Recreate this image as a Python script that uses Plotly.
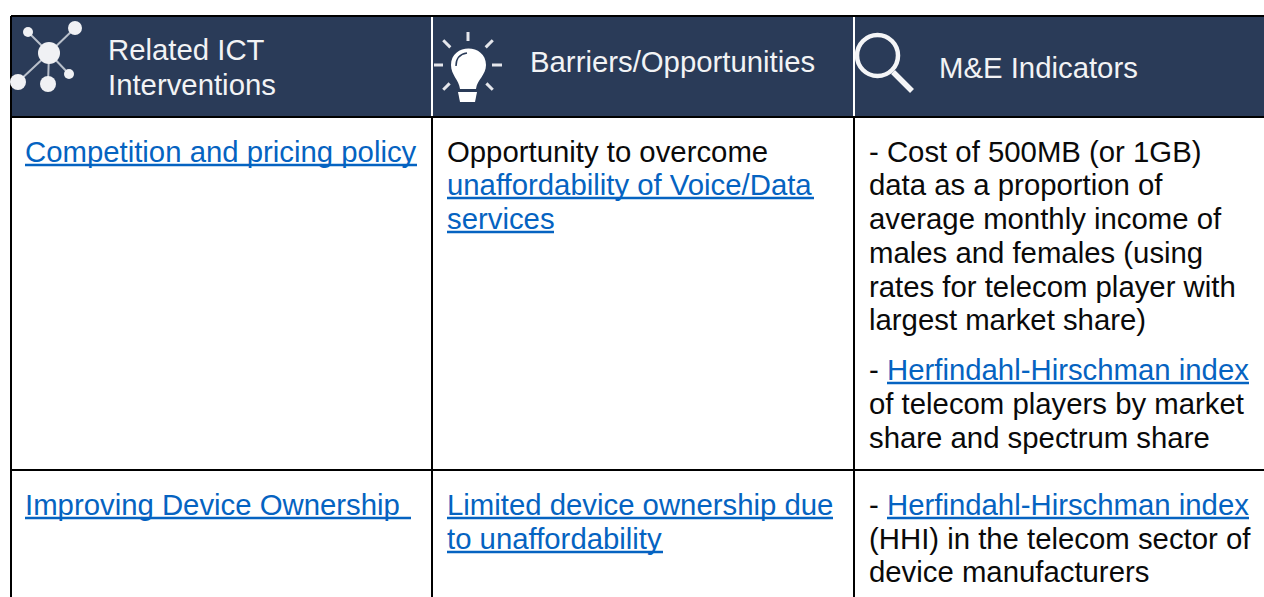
import plotly.graph_objects as go
import math

W, H = 1264, 597
NAVY = "#2A3B58"
LINK = "#0563C1"
FONT = "Liberation Sans, Arial, sans-serif"

headers = [("Related ICT", 108, 49), ("Interventions", 108, 84),
           ("Barriers/Opportunities", 530, 61), ("M&E Indicators", 939, 67)]
body = [("Opportunity to overcome", 447, 151), ("- Cost of 500MB (or 1GB)", 869, 151),
        ("data as a proportion of", 869, 184), ("average monthly income of", 869, 218),
        ("males and females (using", 869, 252), ("rates for telecom player with", 869, 286),
        ("largest market share)", 869, 319), ("-", 869, 369),
        ("of telecom players by market", 869, 403), ("share and spectrum share", 869, 437),
        ("-", 869, 504), ("(HHI) in the telecom sector of", 869, 538),
        ("device manufacturers", 869, 571)]
links = [("Competition and pricing policy", 25, 151, 417), ("Improving Device Ownership ", 25, 504, 411),
         ("unaffordability of Voice/Data", 447, 184, 814), ("services", 447, 218, 554),
         ("Limited device ownership due", 447, 504, 833), ("to unaffordability", 447, 538, 663),
         ("Herfindahl-Hirschman index", 887, 369, 1249), ("Herfindahl-Hirschman index", 887, 504, 1249)]

# table rules
black_h = [(11, 1264, 16), (11, 1264, 117), (11, 1264, 470)]
black_v = [(11, 16, 597), (432, 117, 597), (854, 117, 597)]
white_v = [(432, 17, 116), (854, 17, 116)]

shapes = [dict(type="rect", x0=12, x1=W, y0=17, y1=116, fillcolor=NAVY, line_width=0, layer="below")]
def ln(x0, y0, x1, y1, c, w):
    return dict(type="line", x0=x0, y0=y0, x1=x1, y1=y1, line=dict(color=c, width=w))
for a, b, y in black_h:
    shapes.append(ln(a, y, b, y, "black", 2))
for x, a, b in black_v:
    shapes.append(ln(x, a, x, b, "black", 2))
for x, a, b in white_v:
    shapes.append(ln(x, a, x, b, "white", 2))
for t, x, y, xe in links:
    shapes.append(ln(x, y + 14, xe, y + 14, LINK, 2.5))

# network icon
hub = (49, 53)
nodes = [(28, 32, 5), (75, 28, 7), (18, 82, 8), (48, 84, 8), (69, 74, 5)]
for x, y, r in nodes:
    shapes.append(ln(hub[0], hub[1], x, y, "#B9C0CB", 2))
    shapes.append(dict(type="circle", x0=x - r, x1=x + r, y0=y - r, y1=y + r, fillcolor="#F0F1F4", line_width=0))
shapes.append(dict(type="circle", x0=hub[0] - 11, x1=hub[0] + 11, y0=hub[1] - 11, y1=hub[1] + 11,
                   fillcolor="#F0F1F4", line_width=0))

# bulb icon
bulb_c = (468, 65)
for deg, r0, r1 in [(270, 24, 33), (225, 25, 35), (315, 25, 35), (180, 25, 34), (0, 24, 34), (135, 26, 35), (45, 26, 35)]:
    t = math.radians(deg)
    shapes.append(ln(bulb_c[0] + r0 * math.cos(t), bulb_c[1] + r0 * math.sin(t),
                     bulb_c[0] + r1 * math.cos(t), bulb_c[1] + r1 * math.sin(t), "#E4E6EB", 3))
shapes.append(dict(type="path", path="M 451 65 C 451 43 486 43 486 65 C 486 75 477 80 476 89 L 460 89 C 459 80 451 75 451 65 Z",
                   fillcolor="white", line_width=0))
shapes.append(dict(type="path", path="M 456 66 C 456 58 460 54 467 53", line=dict(color=NAVY, width=1.5)))
shapes.append(dict(type="path", path="M 458 92 L 477 92 L 475 102 L 460 102 Z", fillcolor="white", line_width=0))

# magnifier icon
shapes.append(dict(type="circle", x0=857, x1=898, y0=35, y1=76, line=dict(color="#F4F5F7", width=4.5)))
shapes.append(ln(893, 72, 912, 91, "#F4F5F7", 5.5))

ann = []
def add(t, x, y, c):
    ann.append(dict(x=x, y=y, text=t, xref="x", yref="y", xanchor="left", yanchor="middle", showarrow=False,
                    borderpad=0, borderwidth=0, align="left", font=dict(family=FONT, size=29.33, color=c)))
for t, x, y in headers:
    add(t, x, y, "#F2F3F5")
for t, x, y in body:
    add(t, x, y, "#0A0A0A")
for t, x, y, _ in links:
    add(t, x, y, LINK)

fig = go.Figure()
fig.update_layout(width=W, height=H, autosize=False, margin=dict(l=0, r=0, t=0, b=0), paper_bgcolor="white",
                  plot_bgcolor="white", shapes=shapes, annotations=ann, showlegend=False,
                  xaxis=dict(range=[0, W], visible=False, fixedrange=True),
                  yaxis=dict(range=[H, 0], visible=False, fixedrange=True))
fig.write_html("out.html", config=dict(displayModeBar=False),
               post_script="document.body.style.margin='0';document.documentElement.style.overflow='hidden';")
